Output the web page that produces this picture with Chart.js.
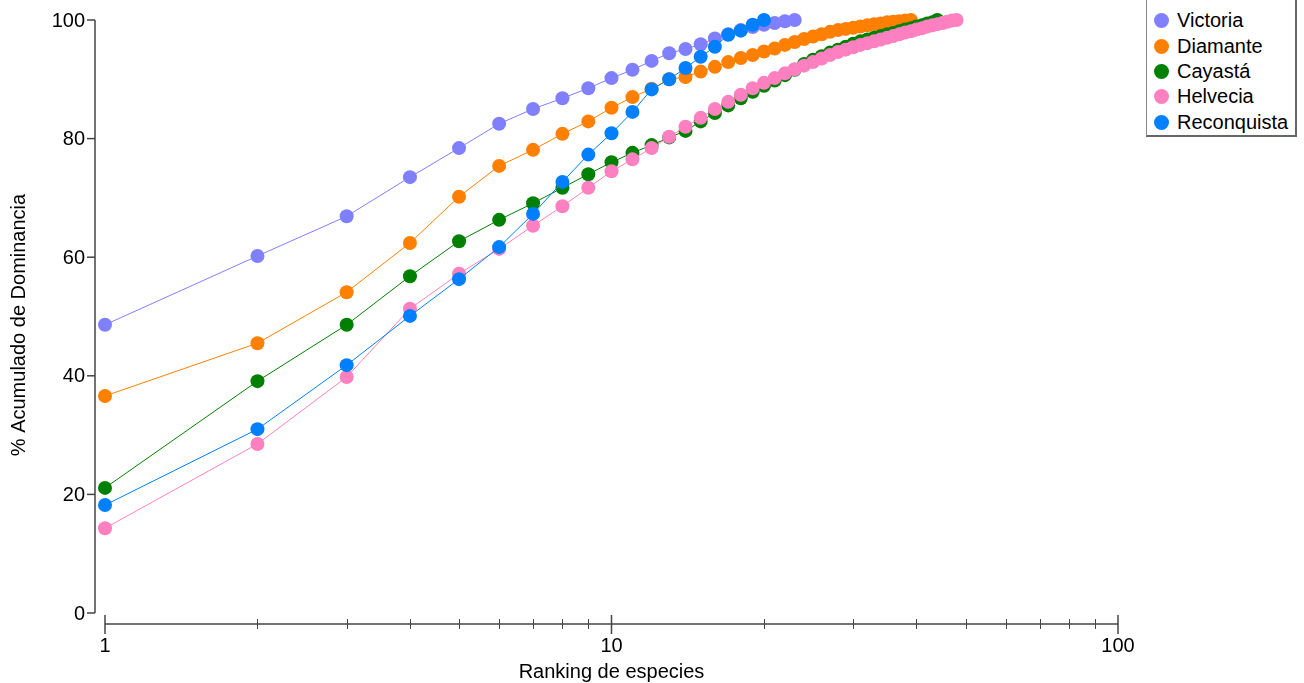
<!DOCTYPE html>
<html lang="es">
<head>
<meta charset="utf-8">
<title>Curvas de dominancia acumulada</title>
<script src="https://cdn.jsdelivr.net/npm/chart.js@4.4.1/dist/chart.umd.min.js"></script>
<style>
  html, body { margin: 0; padding: 0; background: #fff; }
  #wrap { position: relative; width: 1304px; height: 683px; overflow: hidden; }
  #dominanceChart { position: absolute; left: 0; top: 0; }
  #legend {
    position: absolute; left: 1146px; top: -3px; width: 151px; height: 140px;
    box-sizing: border-box; border: 1px solid #888; border-right: 2px solid #666; border-bottom: 2px solid #666;
    font-family: "Liberation Sans", Arial, sans-serif; font-size: 20px; color: #000;
    padding-top: 10px; background: #fff;
  }
  .legend-item { display: flex; align-items: center; height: 25.4px; }
  .legend-dot { width: 15px; height: 15px; border-radius: 50%; margin: 0 8px 0 7px; }
</style>
</head>
<body>
<div id="wrap">
  <canvas id="dominanceChart" width="1304" height="683"></canvas>
  <div id="legend"></div>
</div>
<script>
// % acumulado de dominancia por ranking de especies (rank = posición + 1)
const siteNames = ['Victoria', 'Diamante', 'Cayastá', 'Helvecia', 'Reconquista'];
const siteColors = ['#8080ff', '#ff8000', '#008000', '#ff80c0', '#0080ff'];

const victoria = [48.6, 60.2, 66.9, 73.5, 78.4, 82.5, 85.0, 86.8, 88.5, 90.2, 91.6, 93.1, 94.4, 95.1,
  95.9, 96.9, 97.6, 98.3, 98.8, 99.2, 99.5, 99.8, 100];
const diamante = [36.6, 45.5, 54.1, 62.4, 70.2, 75.4, 78.1, 80.8, 82.9, 85.2, 87.0, 88.4, 90.0, 90.4,
  91.3, 92.1, 92.9, 93.6, 94.1, 94.7, 95.2, 95.8, 96.3, 96.8, 97.2, 97.6, 98.0, 98.3, 98.5, 98.7,
  98.9, 99.1, 99.3, 99.4, 99.6, 99.7, 99.8, 99.9, 100];
const cayasta = [21.1, 39.1, 48.6, 56.8, 62.7, 66.3, 69.1, 71.7, 74.0, 76.0, 77.6, 78.9, 80.2, 81.3,
  82.9, 84.3, 85.6, 86.8, 87.9, 88.9, 89.8, 90.7, 91.6, 92.6, 93.3, 93.9, 94.5, 95.0, 95.5, 96.0,
  96.4, 96.7, 97.0, 97.3, 97.6, 97.8, 98.1, 98.4, 98.6, 98.9, 99.1, 99.4, 99.6, 100];
const helvecia = [14.3, 28.5, 39.8, 51.3, 57.2, 61.4, 65.3, 68.6, 71.7, 74.5, 76.5, 78.4, 80.3, 82.0,
  83.5, 85.0, 86.2, 87.4, 88.5, 89.4, 90.2, 91.0, 91.7, 92.3, 92.9, 93.5, 94.1, 94.6, 95.0, 95.4,
  95.8, 96.1, 96.4, 96.7, 97.0, 97.3, 97.6, 97.9, 98.1, 98.4, 98.6, 98.9, 99.1, 99.3, 99.5, 99.7,
  99.9, 100];
const reconquista = [18.2, 31.0, 41.8, 50.1, 56.3, 61.7, 67.3, 72.7, 77.3, 80.9, 84.5, 88.3, 90.0, 91.9,
  93.8, 95.5, 97.5, 98.2, 99.2, 100];

const siteSeries = [victoria, diamante, cayasta, helvecia, reconquista];

// ticks
const yTicks = [0, 20, 40, 60, 80, 100];
const xMajorTicks = [1, 10, 100];
const xMinorTicks = [2, 3, 4, 5, 6, 7, 8, 9, 20, 30, 40, 50, 60, 70, 80, 90];

const FONT = '20px "Liberation Sans", Arial, sans-serif';

// ejes separados del área de datos
const detachedAxes = {
  id: 'detachedAxes',
  afterDraw(chart) {
    const { ctx, chartArea, scales } = chart;
    const xs = scales.x, ys = scales.y;
    ctx.save();
    ctx.strokeStyle = '#444';
    ctx.fillStyle = '#000';
    ctx.font = FONT;

    // eje Y
    const axisX = chartArea.left - 10;
    ctx.lineWidth = 1.5;
    ctx.beginPath();
    ctx.moveTo(axisX, ys.getPixelForValue(100));
    ctx.lineTo(axisX, ys.getPixelForValue(0));
    ctx.stroke();
    ctx.textAlign = 'right';
    ctx.textBaseline = 'middle';
    yTicks.forEach((v) => {
      const py = ys.getPixelForValue(v);
      ctx.beginPath();
      ctx.moveTo(axisX - 8, py);
      ctx.lineTo(axisX, py);
      ctx.stroke();
      ctx.fillText(String(v), axisX - 10, py + 1);
    });

    // eje X (logarítmico)
    const axisY = chartArea.bottom + 11;
    ctx.beginPath();
    ctx.moveTo(xs.getPixelForValue(1), axisY);
    ctx.lineTo(xs.getPixelForValue(100), axisY);
    ctx.stroke();
    ctx.lineWidth = 1;
    xMinorTicks.forEach((v) => {
      const px = Math.round(xs.getPixelForValue(v)) + 0.5;
      ctx.beginPath();
      ctx.moveTo(px, axisY - 5);
      ctx.lineTo(px, axisY + 5);
      ctx.stroke();
    });
    ctx.lineWidth = 1.5;
    ctx.textAlign = 'center';
    xMajorTicks.forEach((v) => {
      const px = xs.getPixelForValue(v);
      ctx.beginPath();
      ctx.moveTo(px, axisY - 9);
      ctx.lineTo(px, axisY + 10);
      ctx.stroke();
      ctx.fillText(String(v), px, axisY + 22);
    });

    // títulos
    ctx.fillText('Ranking de especies', (xs.getPixelForValue(1) + xs.getPixelForValue(100)) / 2, 672);
    ctx.translate(19, 325);
    ctx.rotate(-Math.PI / 2);
    ctx.fillText('% Acumulado de Dominancia', 0, 0);
    ctx.restore();
  }
};

const datasets = siteNames.map((name, i) => ({
  label: name,
  data: siteSeries[i].map((v, k) => ({ x: k + 1, y: v })),
  borderColor: siteColors[i],
  backgroundColor: siteColors[i],
  borderWidth: 1,
  pointRadius: 7,
  pointBorderWidth: 0,
  pointHoverRadius: 7,
  tension: 0,
  clip: false,
  order: siteNames.length - i   // la última serie queda encima
}));

new Chart(document.getElementById('dominanceChart'), {
  type: 'line',
  data: { datasets },
  plugins: [detachedAxes],
  options: {
    responsive: false,
    animation: false,
    layout: { padding: { left: 105, right: 186, top: 20, bottom: 70 } },
    scales: {
      x: { type: 'logarithmic', min: 1, max: 100, display: false },
      y: { type: 'linear', min: 0, max: 100, display: false }
    },
    plugins: {
      legend: { display: false },
      tooltip: { enabled: false }
    }
  }
});

// leyenda
const legendBox = document.getElementById('legend');
siteNames.forEach((name, i) => {
  const item = document.createElement('div');
  item.classList.add('legend-item');
  const dot = document.createElement('div');
  dot.classList.add('legend-dot');
  dot.style.backgroundColor = siteColors[i];
  const label = document.createElement('span');
  label.textContent = name;
  item.appendChild(dot);
  item.appendChild(label);
  legendBox.appendChild(item);
});
</script>
</body>
</html>
